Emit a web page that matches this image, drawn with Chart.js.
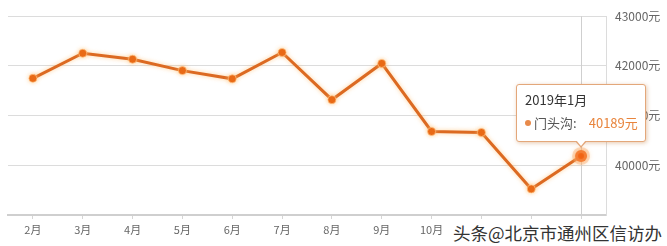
<!DOCTYPE html>
<html>
<head>
<meta charset="utf-8">
<script src="https://cdn.jsdelivr.net/npm/chart.js@4"></script>
<style>
  body { margin: 0; background: #fff; }
  #wrap { position: relative; width: 667px; height: 246px; }
  #tip {
    position: absolute; display: none; box-sizing: border-box;
    width: 130px; height: 58px; background: #fff;
    border: 1px solid #e3a77a; border-radius: 3px;
    box-shadow: 1px 1px 4px rgba(200, 130, 70, 0.45);
    font-family: "Noto Sans CJK SC", sans-serif; font-size: 13px;
    padding: 5px 8px; pointer-events: none;
  }
  #tip .t { color: #333; line-height: 20px; }
  #tip .b { color: #555; line-height: 20px; margin-top: 3px; white-space: nowrap; }
  #tip .dot { display: inline-block; width: 6px; height: 6px; border-radius: 3px; background: #e88a4a; margin-right: 3px; vertical-align: 2px; }
  #tip .v { color: #e8843c; margin-left: 12px; }
  #tip .caret, #tip .caret2 {
    position: absolute; left: 50%; width: 0; height: 0;
    border-left: 6px solid transparent; border-right: 6px solid transparent;
  }
  #tip .caret { bottom: -7px; margin-left: -6px; border-top: 7px solid #e3a77a; }
  #tip .caret2 { bottom: -5px; margin-left: -5px; border-left-width: 5px; border-right-width: 5px; border-top: 6px solid #fff; }
  #mark {
    position: absolute; right: 0; bottom: 0; height: 26px; padding: 0 5px 0 6px;
    background: #fff; line-height: 26px;
    font-family: "Noto Sans CJK SC", sans-serif; font-size: 17.5px; color: #333;
  }
</style>
</head>
<body>
<div id="wrap">
  <canvas id="chart"></canvas>
  <div id="tip"></div>
  <div id="mark">头条@北京市通州区信访办</div>
</div>
<script>
const months = ['2月', '3月', '4月', '5月', '6月', '7月', '8月', '9月', '10月', '11月', '12月', '1月'];
const prices = [41750, 42255, 42135, 41905, 41740, 42270, 41320, 42050, 40680, 40660, 39525, 40189];
const yTicks = [39000, 40000, 41000, 42000, 43000];
const seriesName = '门头沟';
const activeTitle = '2019年1月';
const activeIndex = 11;

const lineColor = '#dc6a22';
const pointColor = '#e8630f';

// soft glow under the line
const glowPlugin = {
    id: 'glow',
    beforeDatasetDraw(chart) {
        chart.ctx.save();
        chart.ctx.shadowColor = 'rgba(255, 190, 110, 0.7)';
        chart.ctx.shadowBlur = 4;
    },
    afterDatasetDraw(chart) {
        chart.ctx.restore();
    }
};

// vertical pointer line at the active point
const crosshairPlugin = {
    id: 'crosshair',
    beforeDatasetsDraw(chart) {
        const active = chart.tooltip.getActiveElements();
        if (!active.length) return;
        const x = active[0].element.x;
        const area = chart.chartArea;
        const ctx = chart.ctx;
        ctx.save();
        ctx.strokeStyle = '#cfcfcf';
        ctx.lineWidth = 1;
        ctx.beginPath();
        ctx.moveTo(Math.round(x) + 0.5, area.top);
        ctx.lineTo(Math.round(x) + 0.5, area.bottom);
        ctx.stroke();
        ctx.restore();
    }
};

function externalTip(context) {
    const tip = document.getElementById('tip');
    const model = context.tooltip;
    if (model.opacity === 0 || !model.dataPoints || !model.dataPoints.length) {
        tip.style.display = 'none';
        return;
    }
    const dp = model.dataPoints[0];
    tip.innerHTML =
        '<div class="t">' + activeTitle + '</div>' +
        '<div class="b"><span class="dot"></span>' + seriesName + ':<span class="v">' + dp.raw + '元</span></div>' +
        '<span class="caret"></span><span class="caret2"></span>';
    tip.style.display = 'block';
    tip.style.left = (model.caretX - 65) + 'px';
    tip.style.top = (model.caretY - 14 - 58) + 'px';
}

const chart = new Chart(document.getElementById('chart').getContext('2d'), {
    type: 'line',
    data: {
        labels: months,
        datasets: [{
            label: seriesName,
            data: prices,
            borderColor: lineColor,
            borderWidth: 3,
            backgroundColor: pointColor,
            pointBackgroundColor: pointColor,
            pointBorderColor: 'rgba(255, 200, 140, 0.6)',
            pointBorderWidth: 1,
            pointRadius: 4,
            pointHoverRadius: 6,
            pointHoverBackgroundColor: '#f05a0a',
            pointHoverBorderColor: 'rgba(245, 160, 100, 0.35)',
            pointHoverBorderWidth: 6,
            tension: 0
        }]
    },
    options: {
        responsive: true,
        maintainAspectRatio: false,
        animation: false,
        layout: { padding: { left: 8, top: 14, right: 0, bottom: 0 } },
        interaction: { mode: 'index', intersect: false },
        plugins: {
            legend: { display: false },
            tooltip: { enabled: false, external: externalTip }
        },
        scales: {
            x: {
                offset: true,
                grid: { display: true, drawOnChartArea: false, drawTicks: true, tickLength: 4, color: '#d5d5d5' },
                border: { display: true, color: '#cfcfcf', width: 2 },
                ticks: {
                    color: '#666',
                    font: { family: 'Noto Sans CJK SC', size: 11 },
                    padding: 4,
                    maxRotation: 0,
                    autoSkip: false
                },
                afterFit(scale) { scale.height = 31; }
            },
            y: {
                position: 'right',
                min: yTicks[0],
                max: yTicks[yTicks.length - 1],
                afterBuildTicks(scale) { scale.ticks = yTicks.map(v => ({ value: v })); },
                grid: { color: '#dcdcdc', drawTicks: false },
                border: { display: true, color: '#dcdcdc', width: 1 },
                ticks: {
                    color: '#666',
                    font: { family: 'Noto Sans CJK SC', size: 12 },
                    padding: 9,
                    callback: v => v === yTicks[0] ? '' : v + '元'
                },
                afterFit(scale) { scale.width = 61; }
            }
        }
    },
    plugins: [glowPlugin, crosshairPlugin]
});

const activeEl = chart.getDatasetMeta(0).data[activeIndex];
chart.setActiveElements([{ datasetIndex: 0, index: activeIndex }]);
chart.tooltip.setActiveElements([{ datasetIndex: 0, index: activeIndex }], { x: activeEl.x, y: activeEl.y });
chart.update();
</script>
</body>
</html>
